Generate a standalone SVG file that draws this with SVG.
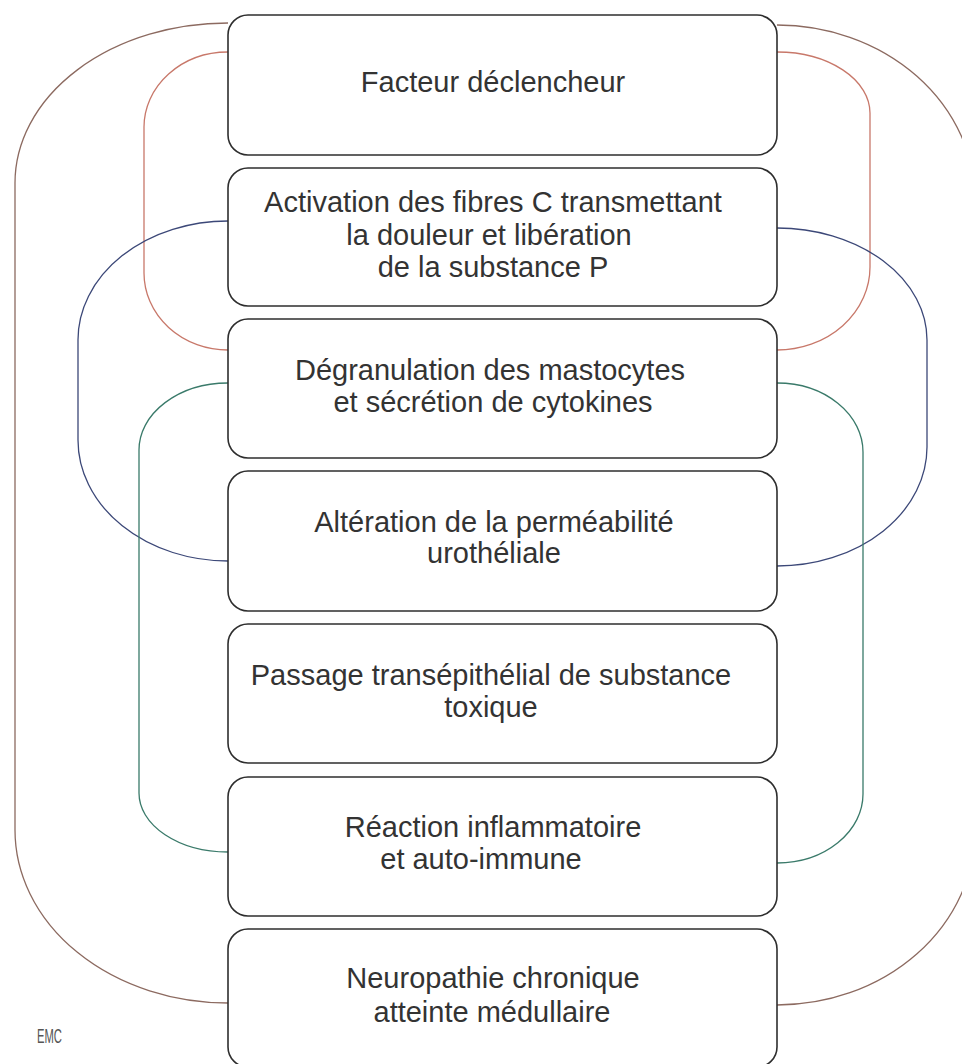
<svg xmlns="http://www.w3.org/2000/svg" width="962" height="1064" viewBox="0 0 962 1064">
<style>
.box{fill:#ffffff;stroke:#2e2e2e;stroke-width:1.6}
.t{font-family:"Liberation Sans",Arial,Helvetica,sans-serif;font-size:29px;fill:#333333;text-anchor:middle}
.c{fill:none;stroke-width:1.3}
.outer{stroke:#8c6a60}
.red{stroke:#c8786a}
.blue{stroke:#3c4878}
.green{stroke:#3a7a6a}
</style>
<rect width="962" height="1064" fill="#ffffff"/>
<g id="connectors">
<path class="c outer" d="M228,23 A213,160 0 0 0 15,183 V830 A213,173 0 0 0 228,1003"/>
<path class="c outer" d="M777,25 A198,175 0 0 1 975,200 V830 A198,175 0 0 1 777,1005"/>
<path class="c red" d="M228,52 A84,75 0 0 0 144,127 V273 A84,77 0 0 0 228,350"/>
<path class="c red" d="M777,52 A93,61 0 0 1 870,113 V267 A93,83 0 0 1 777,350"/>
<path class="c blue" d="M228,221 A150,119 0 0 0 78,340 V440 A150,121 0 0 0 228,561"/>
<path class="c blue" d="M777,228 A150,112 0 0 1 927,340 V447 A150,119 0 0 1 777,566"/>
<path class="c green" d="M228,383 A89,67 0 0 0 139,450 V793 A89,59 0 0 0 228,852"/>
<path class="c green" d="M777,383 A86,69 0 0 1 863,452 V794 A86,69 0 0 1 777,863"/>
</g>
<g id="n1"><rect class="box" x="228" y="15" width="549" height="140" rx="20"/>
<text class="t" x="493" y="92">Facteur déclencheur</text></g>
<g id="n2"><rect class="box" x="228" y="168" width="549" height="138" rx="20"/>
<text class="t" x="493" y="212">Activation des fibres C transmettant</text>
<text class="t" x="489" y="245">la douleur et libération</text>
<text class="t" x="493" y="277">de la substance P</text></g>
<g id="n3"><rect class="box" x="228" y="319" width="549" height="139" rx="20"/>
<text class="t" x="490" y="380">Dégranulation des mastocytes</text>
<text class="t" x="493" y="412">et sécrétion de cytokines</text></g>
<g id="n4"><rect class="box" x="228" y="471" width="549" height="140" rx="20"/>
<text class="t" x="494" y="532">Altération de la perméabilité</text>
<text class="t" x="494" y="563">urothéliale</text></g>
<g id="n5"><rect class="box" x="228" y="624" width="549" height="139" rx="20"/>
<text class="t" x="491" y="685">Passage transépithélial de substance</text>
<text class="t" x="491" y="717">toxique</text></g>
<g id="n6"><rect class="box" x="228" y="777" width="549" height="139" rx="20"/>
<text class="t" x="493" y="837">Réaction inflammatoire</text>
<text class="t" x="481" y="869">et auto-immune</text></g>
<g id="n7"><rect class="box" x="228" y="929" width="549" height="138" rx="20"/>
<text class="t" x="493" y="988">Neuropathie chronique</text>
<text class="t" x="492" y="1022">atteinte médullaire</text></g>
<text x="37" y="1043" font-family="Liberation Sans, Arial, sans-serif" font-size="20" fill="#555555" textLength="25" lengthAdjust="spacingAndGlyphs">EMC</text>
</svg>
